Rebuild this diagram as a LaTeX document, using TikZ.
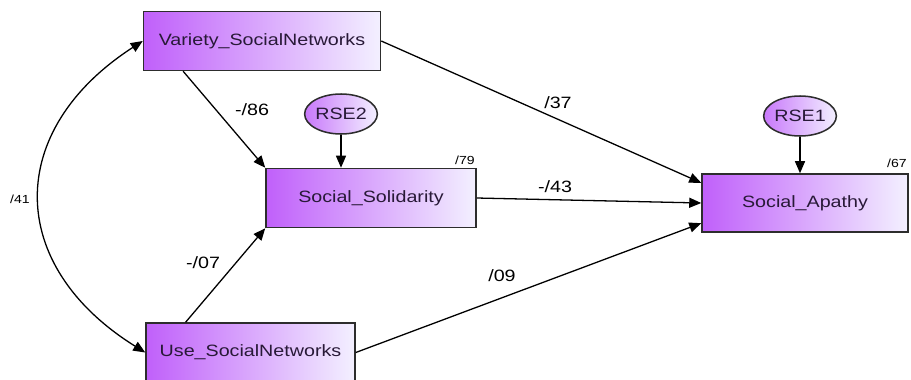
\documentclass[tikz,border=0pt]{standalone}
\usepackage{fontspec}
\setmainfont[FakeStretch=1.2]{Liberation Sans}
\usetikzlibrary{arrows.meta,shapes.geometric}

\definecolor{boxleft}{RGB}{192,96,250}
\definecolor{boxmid}{RGB}{234,218,253}
\definecolor{boxright}{RGB}{243,240,255}
\definecolor{boxtext}{RGB}{40,25,55}
\definecolor{boxline}{RGB}{45,45,45}

\tikzset{
  obsbox/.style={draw=boxline, line width=1.3pt, left color=boxleft, middle color=boxmid, right color=boxright,
    text=boxtext, font=\fontsize{14}{16}\selectfont, minimum height=17.7mm, inner sep=0pt},
  errcirc/.style={ellipse, draw=boxline, line width=1.3pt, left color=boxleft!80!boxmid, middle color=boxmid, right color=boxright,
    text=boxtext, font=\fontsize{14}{16}\selectfont, minimum width=19.5mm, minimum height=12mm, inner sep=0pt},
  regpath/.style={-{Triangle[length=3.6mm,width=3mm]}, line width=1.1pt},
  coef/.style={font=\fontsize{14}{16}\selectfont},
  rsq/.style={font=\fontsize{10}{12}\selectfont}
}

\begin{document}
\begin{tikzpicture}[x=0.3mm, y=-0.3mm]

\useasboundingbox (0,0) rectangle (911,379);

\node[obsbox, minimum width=71.1mm] (variety) at (262,41) {Variety\_SocialNetworks};
\node[obsbox, minimum width=63mm] (solid) at (371,198) {Social\_Solidarity};
\node[obsbox, minimum width=61.8mm, minimum height=17.4mm] (apathy) at (805,203) {Social\_Apathy};
\node[obsbox, minimum width=62.7mm] (use) at (250.5,352.5) {Use\_SocialNetworks};

\node[errcirc] (rse2) at (341,114) {RSE2};
\node[errcirc] (rse1) at (800,116) {RSE1};

% -------- Paths -----------
\draw[regpath] (variety.201) -- (solid.north west);
\draw[regpath] (use.155) -- (solid.south west);
\draw[regpath] (variety.east) -- (apathy.169);
\draw[regpath] (solid.east) -- (apathy.west);
\draw[regpath] (use.east) -- (apathy.191);
\draw[regpath] (rse2.south) -- (rse2.south |- solid.north);
\draw[regpath] (rse1.south) -- (rse1.south |- apathy.north);
\draw[{Triangle[length=3.6mm,width=3mm]}-{Triangle[length=3.6mm,width=3mm]}, line width=1.1pt]
  (variety.west) .. controls (5,130) and (5,265) .. (use.west);

% -------- Coefficients -----------
\node[coef] (c86) at (252,110) {-/86};
\node[coef] (c37) at (558,103) {/37};
\node[coef] (c43) at (555,187) {-/43};
\node[coef] (c09) at (502,276) {/09};
\node[coef] (c07) at (203,263) {-/07};
\node[rsq] (r41) at (20,199) {/41};
\node[rsq] (r79) at (465,160) {/79};
\node[rsq] (r67) at (897,163) {/67};

\end{tikzpicture}
\end{document}
